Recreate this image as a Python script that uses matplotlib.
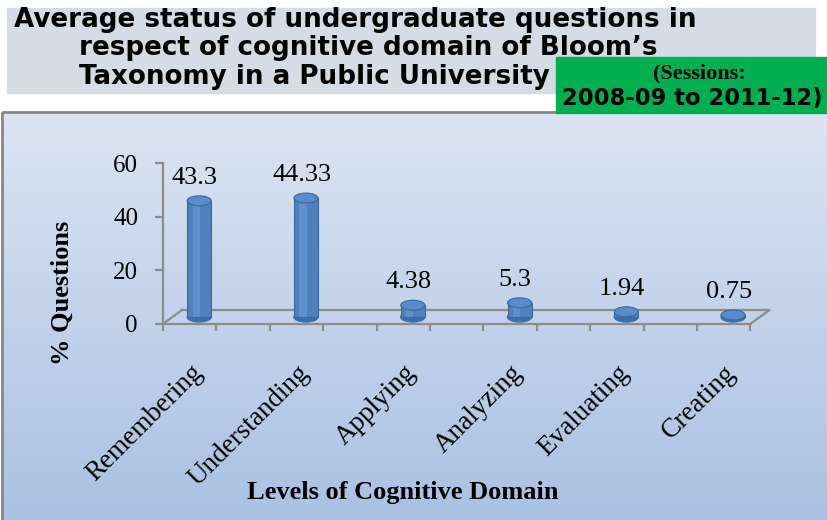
import numpy as np
import matplotlib.pyplot as plt
from matplotlib.patches import Rectangle, Ellipse
from matplotlib.colors import LinearSegmentedColormap

levels = ["Remembering", "Understanding", "Applying", "Analyzing", "Evaluating", "Creating"]
pct_questions = [43.3, 44.33, 4.38, 5.3, 1.94, 0.75]
value_labels = ["43.3", "44.33", "4.38", "5.3", "1.94", "0.75"]
y_ticks = [0, 20, 40, 60]

W, H = 827, 520
fig = plt.figure(figsize=(W / 100, H / 100), dpi=100)

# background layer in pixel coords (title boxes, chart area)
bg = fig.add_axes([0, 0, 1, 1])
bg.set_xlim(0, W)
bg.set_ylim(H, 0)
bg.axis("off")

cm = LinearSegmentedColormap.from_list("bgfill", ["#dce4f2", "#aac1e3"])
grad = np.linspace(0, 1, 256).reshape(-1, 1)
bg.imshow(grad, extent=(2, W, H, 112), aspect="auto", cmap=cm, zorder=0)
bg.add_patch(Rectangle((2, 112), 830, 415, fill=False, ec="#878787", lw=2, zorder=1))

# title box
bg.add_patch(Rectangle((7, 8), 808, 85, color="#d6dce5", zorder=1))
tfont = dict(family="DejaVu Sans", weight="bold", fontsize=18.8, color="black", va="center", ha="left", zorder=2)
bg.text(14, 20, "Average status of undergraduate questions in", **tfont)
bg.text(79, 48, "respect of cognitive domain of Bloom\u2019s", **tfont)
bg.text(79, 77, "Taxonomy in a Public University", **tfont)

# sessions box
bg.add_patch(Rectangle((556, 57), 275, 56, color="#00b050", zorder=3))
bg.text(699, 73, "(Sessions:", family="Liberation Serif", weight="bold", fontsize=16,
        ha="center", va="center", zorder=4)
bg.text(692, 98, "2008-09 to 2011-12)", family="DejaVu Sans", weight="bold", fontsize=16.3,
        ha="center", va="center", zorder=4)

# main chart axes
x0_px, x1_px, y0_px, y1_px = 163, 777, 324, 163
ax = fig.add_axes([x0_px / W, (H - y0_px) / H, (x1_px - x0_px) / W, (y0_px - y1_px) / H])
ax.set_facecolor("none")
ax.set_xlim(-0.25, 5.5)
ax.set_ylim(0, 60)

gray = "#8c8c8c"
for s in ["top", "right"]:
    ax.spines[s].set_visible(False)
ax.spines["left"].set_color(gray)
ax.spines["left"].set_linewidth(1.6)
ax.spines["bottom"].set_color(gray)
ax.spines["bottom"].set_linewidth(1.6)
ax.spines["bottom"].set_bounds(-0.25, 5.25)

ax.set_yticks(y_ticks)
ax.set_yticklabels([str(v) for v in y_ticks], family="Liberation Serif", fontsize=18)
ax.tick_params(axis="y", length=6, width=1.6, color=gray, pad=12)
ax.set_xticks(np.arange(-0.25, 5.3, 0.5))
ax.set_xticklabels([])
ax.tick_params(axis="x", length=5, width=1.6, color=gray, direction="out")

# floor depth
ddx, ddy = 0.178, 5.22
fl = dict(color=gray, lw=1.6, clip_on=False, zorder=2)
ax.plot([-0.25, -0.25 + ddx], [0, ddy], **fl)
ax.plot([-0.25 + ddx, 5.25 + ddx], [ddy, ddy], **fl)
ax.plot([5.25, 5.25 + ddx], [0, ddy], **fl)

# cylinders
x = np.arange(len(levels))
bw = 0.225
eh = 3.7
base = ddy / 2
xc = x + ddx / 2
ax.bar(xc, pct_questions, width=bw, bottom=base, color="#4f81bd", edgecolor="#3b679c",
       lw=0.8, zorder=4, clip_on=False)
ax.bar(xc - bw * 0.12, pct_questions, width=bw * 0.3, bottom=base, color="#5f90cc",
       lw=0, zorder=4, clip_on=False)
for xi, v in zip(xc, pct_questions):
    ax.add_patch(Ellipse((xi, base), bw, eh, color="#3f6ea8", zorder=3, clip_on=False))
    ax.add_patch(Ellipse((xi, base + v), bw, eh, fc="#5b8cca", ec="#3b679c", lw=0.8,
                         zorder=5, clip_on=False))

for xi, v, lab in zip(xc, pct_questions, value_labels):
    ax.text(xi - 0.04, base + v + 8.6, lab, family="Liberation Serif", fontsize=19,
            ha="center", va="center", zorder=6)

# category labels
sec = ax.secondary_xaxis("bottom")
sec.set_xticks(x)
sec.set_xticklabels(levels, family="Liberation Serif", fontsize=19.5, rotation=45,
                    ha="right", va="top", rotation_mode="anchor")
sec.tick_params(length=0, pad=26)
sec.spines["bottom"].set_visible(False)

fig.text(403 / W, 1 - 492 / H, "Levels of Cognitive Domain", family="Liberation Serif",
         weight="bold", fontsize=19, ha="center", va="center")
fig.text(62 / W, 1 - 293 / H, "% Questions", family="Liberation Serif", weight="bold",
         fontsize=19, rotation=90, ha="center", va="center")

fig.savefig("out.png", dpi=100)
